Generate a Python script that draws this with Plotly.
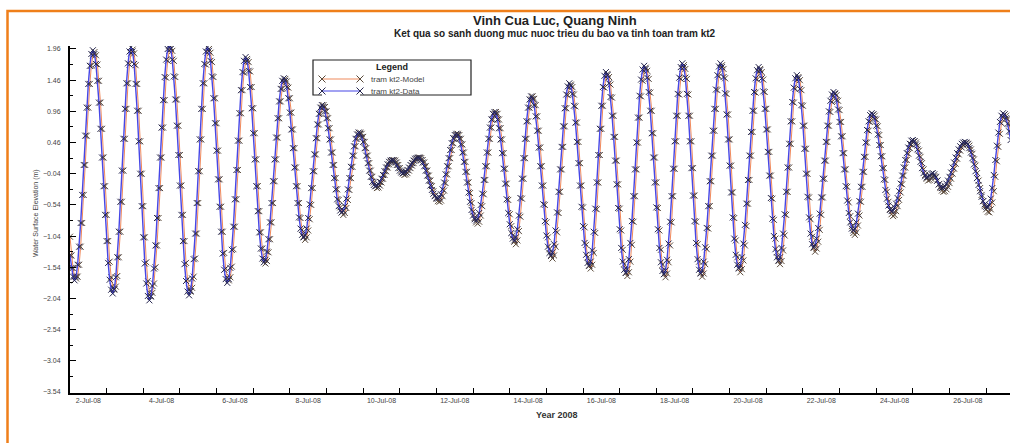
import plotly.graph_objects as go
import pandas as pd

# ---------------- data (hourly, starting 2008-07-01 12:00) ----------------
start_time = "2008-07-01 12:00"

data_elev = [
    -1.35, -1.55, -1.69, -1.75,
    -1.69, -1.50, -1.21, -0.83, -0.38, 0.10, 0.57, 1.02, 1.40, 1.69, 1.88, 1.94,
    1.88, 1.72, 1.45, 1.10, 0.68, 0.22, -0.24, -0.70, -1.12, -1.47, -1.74, -1.90, -1.96,
    -1.89, -1.70, -1.38, -0.97, -0.49, 0.01, 0.52, 1.00, 1.41, 1.73, 1.92, 1.99,
    1.92, 1.72, 1.40, 0.97, 0.48, -0.04, -0.56, -1.06, -1.48, -1.80, -2.00, -2.07,
    -2.01, -1.84, -1.56, -1.19, -0.75, -0.27, 0.22, 0.70, 1.14, 1.51, 1.79, 1.96, 2.02,
    1.96, 1.79, 1.52, 1.15, 0.73, 0.26, -0.23, -0.70, -1.12, -1.49, -1.76, -1.93, -1.99,
    -1.92, -1.72, -1.41, -1.00, -0.51, 0.00, 0.51, 1.00, 1.41, 1.72, 1.92, 1.99,
    1.93, 1.77, 1.52, 1.17, 0.77, 0.33, -0.13, -0.57, -0.97, -1.32, -1.58, -1.73, -1.79,
    -1.73, -1.55, -1.26, -0.89, -0.45, 0.02, 0.49, 0.93, 1.30, 1.59, 1.77, 1.83,
    1.77, 1.61, 1.35, 1.01, 0.61, 0.19, -0.24, -0.64, -0.98, -1.24, -1.40, -1.46,
    -1.42, -1.29, -1.09, -0.82, -0.51, -0.16, 0.19, 0.54, 0.85, 1.12, 1.32, 1.45, 1.49,
    1.45, 1.35, 1.17, 0.94, 0.67, 0.37, 0.06, -0.24, -0.51, -0.74, -0.92, -1.02, -1.06,
    -1.02, -0.92, -0.75, -0.53, -0.27, 0.00, 0.27, 0.53, 0.75, 0.92, 1.02, 1.06,
    1.03, 0.96, 0.85, 0.69, 0.51, 0.30, 0.10, -0.11, -0.29, -0.45, -0.56, -0.63, -0.66,
    -0.63, -0.56, -0.44, -0.29, -0.11, 0.07, 0.25, 0.40, 0.52, 0.59, 0.62,
    0.60, 0.55, 0.47, 0.37, 0.25, 0.13, 0.01, -0.09, -0.17, -0.22, -0.24,
    -0.23, -0.21, -0.17, -0.12, -0.06, 0.00, 0.06, 0.11, 0.15, 0.17, 0.18,
    0.17, 0.14, 0.10, 0.05, 0.01, -0.02, -0.03,
    -0.02, -0.01, 0.02, 0.06, 0.10, 0.13, 0.17, 0.20, 0.21, 0.22,
    0.21, 0.18, 0.14, 0.08, 0.01, -0.07, -0.15, -0.23, -0.30, -0.36, -0.40, -0.43, -0.44,
    -0.42, -0.37, -0.29, -0.18, -0.05, 0.08, 0.21, 0.34, 0.45, 0.53, 0.58, 0.60,
    0.58, 0.52, 0.43, 0.30, 0.15, -0.01, -0.18, -0.34, -0.49, -0.62, -0.71, -0.77, -0.79,
    -0.76, -0.67, -0.54, -0.36, -0.14, 0.08, 0.30, 0.52, 0.70, 0.83, 0.92, 0.95,
    0.92, 0.83, 0.69, 0.51, 0.29, 0.04, -0.20, -0.45, -0.67, -0.85, -0.99, -1.08, -1.11,
    -1.06, -0.93, -0.71, -0.43, -0.12, 0.21, 0.52, 0.80, 1.02, 1.15, 1.20,
    1.16, 1.06, 0.88, 0.65, 0.38, 0.08, -0.23, -0.53, -0.80, -1.03, -1.21, -1.31, -1.35,
    -1.30, -1.17, -0.95, -0.66, -0.33, 0.03, 0.39, 0.72, 1.01, 1.23, 1.36, 1.41,
    1.37, 1.24, 1.05, 0.78, 0.47, 0.13, -0.23, -0.57, -0.88, -1.15, -1.34, -1.47, -1.51,
    -1.45, -1.27, -0.97, -0.60, -0.18, 0.26, 0.68, 1.05, 1.35, 1.53, 1.59,
    1.54, 1.41, 1.19, 0.89, 0.55, 0.17, -0.21, -0.59, -0.93, -1.23, -1.45, -1.58, -1.63,
    -1.57, -1.41, -1.15, -0.80, -0.40, 0.03, 0.46, 0.86, 1.21, 1.47, 1.63, 1.69,
    1.64, 1.50, 1.27, 0.97, 0.61, 0.22, -0.18, -0.58, -0.93, -1.23, -1.46, -1.60, -1.65,
    -1.59, -1.42, -1.16, -0.81, -0.40, 0.04, 0.48, 0.89, 1.24, 1.50, 1.67, 1.73,
    1.67, 1.50, 1.24, 0.89, 0.48, 0.05, -0.39, -0.80, -1.15, -1.41, -1.58, -1.64,
    -1.59, -1.45, -1.22, -0.91, -0.56, -0.16, 0.25, 0.65, 1.00, 1.31, 1.54, 1.68, 1.73,
    1.67, 1.51, 1.25, 0.91, 0.51, 0.09, -0.34, -0.74, -1.08, -1.34, -1.50, -1.56,
    -1.51, -1.38, -1.16, -0.86, -0.52, -0.14, 0.25, 0.63, 0.97, 1.27, 1.49, 1.62, 1.67,
    1.62, 1.49, 1.28, 1.00, 0.67, 0.31, -0.07, -0.43, -0.76, -1.04, -1.25, -1.38, -1.43,
    -1.38, -1.23, -1.00, -0.69, -0.33, 0.06, 0.44, 0.80, 1.11, 1.34, 1.49, 1.54,
    1.49, 1.32, 1.06, 0.73, 0.36, -0.04, -0.41, -0.74, -1.00, -1.17, -1.22,
    -1.18, -1.08, -0.91, -0.68, -0.42, -0.12, 0.17, 0.47, 0.73, 0.96, 1.13, 1.23, 1.27,
    1.24, 1.14, 0.99, 0.79, 0.56, 0.29, 0.03, -0.24, -0.47, -0.67, -0.82, -0.92, -0.95,
    -0.92, -0.82, -0.68, -0.48, -0.25, -0.01, 0.23, 0.46, 0.66, 0.80, 0.90, 0.93,
    0.91, 0.84, 0.73, 0.59, 0.42, 0.24, 0.05, -0.13, -0.30, -0.44, -0.55, -0.62, -0.64,
    -0.63, -0.58, -0.52, -0.43, -0.32, -0.20, -0.07, 0.06, 0.18, 0.29, 0.38, 0.44, 0.49, 0.50,
    0.48, 0.43, 0.35, 0.25, 0.15, 0.05, -0.03, -0.08, -0.10,
    -0.09, -0.07, -0.04, -0.03,
    -0.05, -0.09, -0.15, -0.21, -0.25, -0.27,
    -0.26, -0.24, -0.20, -0.15, -0.09, -0.02, 0.06, 0.14, 0.22, 0.29, 0.35, 0.40, 0.44, 0.46, 0.47,
    0.46, 0.43, 0.37, 0.30, 0.21, 0.11, 0.00, -0.11, -0.22, -0.32, -0.41, -0.48, -0.53, -0.57, -0.58,
    -0.54, -0.44, -0.27, -0.06, 0.18, 0.41, 0.62, 0.79, 0.89, 0.93,
    0.91, 0.85, 0.76, 0.64, 0.50,
]

model_elev = [
    -1.05,
    -1.35, -1.55, -1.69, -1.72,
    -1.69, -1.50, -1.21, -0.83, -0.38, 0.10, 0.57, 1.02, 1.40, 1.69, 1.86, 1.91,
    1.86, 1.71, 1.45, 1.10, 0.68, 0.22, -0.24, -0.70, -1.12, -1.45, -1.70, -1.85, -1.90,
    -1.85, -1.68, -1.38, -0.97, -0.49, 0.01, 0.52, 1.00, 1.41, 1.71, 1.89, 1.95,
    1.89, 1.70, 1.40, 0.97, 0.48, -0.04, -0.56, -1.06, -1.46, -1.76, -1.94, -2.00,
    -1.95, -1.80, -1.54, -1.19, -0.75, -0.27, 0.22, 0.70, 1.14, 1.50, 1.77, 1.93, 1.98,
    1.93, 1.77, 1.51, 1.15, 0.73, 0.26, -0.23, -0.70, -1.12, -1.47, -1.73, -1.88, -1.93,
    -1.87, -1.69, -1.40, -1.00, -0.51, 0.00, 0.51, 1.00, 1.41, 1.71, 1.90, 1.96,
    1.90, 1.75, 1.51, 1.17, 0.77, 0.33, -0.13, -0.57, -0.97, -1.31, -1.56, -1.70, -1.75,
    -1.70, -1.53, -1.25, -0.89, -0.45, 0.02, 0.49, 0.93, 1.30, 1.58, 1.75, 1.80,
    1.75, 1.60, 1.35, 1.01, 0.61, 0.19, -0.24, -0.64, -0.98, -1.24, -1.41, -1.48,
    -1.44, -1.30, -1.09, -0.82, -0.51, -0.16, 0.19, 0.54, 0.85, 1.12, 1.32, 1.44, 1.48,
    1.44, 1.34, 1.17, 0.94, 0.67, 0.37, 0.06, -0.24, -0.51, -0.75, -0.94, -1.05, -1.10,
    -1.06, -0.95, -0.77, -0.54, -0.27, 0.00, 0.27, 0.53, 0.75, 0.92, 1.02, 1.06,
    1.03, 0.96, 0.85, 0.69, 0.51, 0.30, 0.10, -0.11, -0.29, -0.46, -0.58, -0.66, -0.70,
    -0.67, -0.59, -0.46, -0.30, -0.11, 0.07, 0.25, 0.40, 0.52, 0.59, 0.62,
    0.60, 0.55, 0.47, 0.37, 0.25, 0.13, 0.01, -0.09, -0.18, -0.24, -0.27,
    -0.26, -0.23, -0.18, -0.12, -0.06, 0.00, 0.06, 0.11, 0.15, 0.17, 0.18,
    0.17, 0.14, 0.10, 0.05, 0.00, -0.04, -0.06,
    -0.05, -0.03, 0.01, 0.05, 0.09, 0.13, 0.17, 0.20, 0.21, 0.22,
    0.21, 0.18, 0.14, 0.08, 0.01, -0.07, -0.15, -0.24, -0.32, -0.39, -0.44, -0.48, -0.49,
    -0.47, -0.40, -0.31, -0.19, -0.05, 0.08, 0.21, 0.34, 0.45, 0.53, 0.58, 0.60,
    0.58, 0.52, 0.43, 0.30, 0.15, -0.01, -0.18, -0.35, -0.51, -0.65, -0.75, -0.82, -0.84,
    -0.81, -0.71, -0.56, -0.37, -0.14, 0.08, 0.30, 0.52, 0.70, 0.83, 0.92, 0.95,
    0.92, 0.83, 0.69, 0.51, 0.29, 0.04, -0.20, -0.46, -0.69, -0.88, -1.03, -1.13, -1.17,
    -1.11, -0.96, -0.73, -0.44, -0.12, 0.21, 0.52, 0.80, 1.02, 1.15, 1.20,
    1.16, 1.06, 0.88, 0.65, 0.38, 0.08, -0.23, -0.54, -0.82, -1.06, -1.25, -1.36, -1.40,
    -1.35, -1.21, -0.98, -0.67, -0.33, 0.03, 0.39, 0.72, 1.01, 1.22, 1.34, 1.39,
    1.35, 1.23, 1.04, 0.78, 0.47, 0.13, -0.23, -0.58, -0.90, -1.18, -1.38, -1.52, -1.56,
    -1.50, -1.31, -0.99, -0.61, -0.18, 0.26, 0.68, 1.05, 1.34, 1.51, 1.56,
    1.51, 1.39, 1.18, 0.89, 0.55, 0.17, -0.21, -0.60, -0.95, -1.26, -1.49, -1.63, -1.68,
    -1.62, -1.45, -1.18, -0.81, -0.40, 0.03, 0.46, 0.86, 1.20, 1.45, 1.60, 1.66,
    1.61, 1.48, 1.26, 0.97, 0.61, 0.22, -0.18, -0.59, -0.95, -1.26, -1.50, -1.65, -1.70,
    -1.64, -1.46, -1.19, -0.82, -0.40, 0.04, 0.48, 0.89, 1.23, 1.48, 1.64, 1.70,
    1.64, 1.48, 1.23, 0.89, 0.48, 0.05, -0.39, -0.81, -1.17, -1.45, -1.63, -1.69,
    -1.64, -1.49, -1.25, -0.92, -0.56, -0.16, 0.25, 0.65, 1.00, 1.30, 1.52, 1.65, 1.70,
    1.64, 1.49, 1.24, 0.91, 0.51, 0.09, -0.34, -0.75, -1.11, -1.38, -1.55, -1.62,
    -1.57, -1.43, -1.19, -0.88, -0.52, -0.14, 0.25, 0.63, 0.97, 1.26, 1.47, 1.59, 1.64,
    1.59, 1.47, 1.27, 1.00, 0.67, 0.31, -0.07, -0.44, -0.78, -1.08, -1.30, -1.44, -1.49,
    -1.44, -1.27, -1.03, -0.70, -0.33, 0.06, 0.44, 0.80, 1.10, 1.32, 1.46, 1.51,
    1.46, 1.30, 1.05, 0.73, 0.36, -0.04, -0.42, -0.77, -1.05, -1.23, -1.29,
    -1.24, -1.13, -0.94, -0.70, -0.42, -0.12, 0.17, 0.47, 0.73, 0.95, 1.11, 1.21, 1.25,
    1.22, 1.13, 0.98, 0.79, 0.56, 0.29, 0.03, -0.25, -0.50, -0.72, -0.88, -0.99, -1.02,
    -0.98, -0.87, -0.71, -0.49, -0.25, -0.01, 0.23, 0.46, 0.65, 0.79, 0.88, 0.91,
    0.89, 0.83, 0.72, 0.58, 0.42, 0.24, 0.05, -0.14, -0.33, -0.49, -0.61, -0.69, -0.72,
    -0.70, -0.64, -0.56, -0.46, -0.34, -0.21, -0.07, 0.06, 0.18, 0.28, 0.37, 0.43, 0.47, 0.48,
    0.46, 0.41, 0.33, 0.23, 0.13, 0.03, -0.06, -0.12, -0.15,
    -0.14, -0.12, -0.09, -0.08,
    -0.10, -0.15, -0.21, -0.27, -0.31, -0.33,
    -0.32, -0.29, -0.25, -0.19, -0.12, -0.04, 0.04, 0.12, 0.20, 0.27, 0.33, 0.38, 0.42, 0.44, 0.45,
    0.44, 0.41, 0.35, 0.28, 0.19, 0.09, -0.03, -0.15, -0.27, -0.38, -0.48, -0.56, -0.61, -0.65, -0.66,
    -0.61, -0.50, -0.32, -0.09, 0.16, 0.39, 0.60, 0.77, 0.87, 0.91,
    0.89, 0.84, 0.75, 0.63,
]

series_names = ["tram kt2-Model", "tram kt2-Data"]
x_label_dates = ["2008-07-%02d" % d for d in range(2, 27, 2)]
y_tick_values = [-3.54, -3.04, -2.54, -2.04, -1.54, -1.04, -0.54, -0.04, 0.46, 0.96, 1.46, 1.96]

title_text = "Vinh Cua Luc, Quang Ninh"
subtitle_text = "Ket qua so sanh duong muc nuoc trieu du bao va tinh toan tram kt2"
x_title = "Year 2008"
y_title = "Water Surface Elevation (m)"

# ---------------- styles ----------------
MODEL_LINE = "#f08a5d"
MODEL_MARK = "#5a4a3a"
DATA_LINE = "#4646e6"
DATA_MARK = "#26264e"
FONT = "Liberation Sans, Arial, sans-serif"

t_model = pd.date_range(start_time, periods=len(model_elev), freq="h")
t_data = pd.date_range(start_time, periods=len(data_elev), freq="h")

fig = go.Figure()
fig.add_trace(go.Scatter(
    x=t_model, y=model_elev, mode="lines+markers", name=series_names[0],
    line=dict(color=MODEL_LINE, width=1.0),
    marker=dict(symbol="x-thin", size=6, color=MODEL_MARK, line=dict(width=1, color=MODEL_MARK)),
    showlegend=False,
))
fig.add_trace(go.Scatter(
    x=t_data, y=data_elev, mode="lines+markers", name=series_names[1],
    line=dict(color=DATA_LINE, width=1.4),
    marker=dict(symbol="x-thin", size=6, color=DATA_MARK, line=dict(width=1, color=DATA_MARK)),
    showlegend=False,
))

# legend samples drawn on a small overlay axis
fig.add_trace(go.Scatter(
    x=[0, 1], y=[0.75, 0.75], mode="lines+markers", xaxis="x2", yaxis="y2",
    line=dict(color=MODEL_LINE, width=1.2), cliponaxis=False,
    marker=dict(symbol="x-thin", size=7, color=MODEL_MARK, line=dict(width=1, color=MODEL_MARK)),
    showlegend=False, hoverinfo="skip",
))
fig.add_trace(go.Scatter(
    x=[0, 1], y=[0.25, 0.25], mode="lines+markers", xaxis="x2", yaxis="y2",
    line=dict(color=DATA_LINE, width=1.2), cliponaxis=False,
    marker=dict(symbol="x-thin", size=7, color=DATA_MARK, line=dict(width=1, color=DATA_MARK)),
    showlegend=False, hoverinfo="skip",
))

W, H = 1010, 443
L, R, T, B = 70, 0, 46, 50
PW, PH = W - L - R, H - T - B


def px(x):
    return (x - L) / PW


def py(y):
    return (H - B - y) / PH


fig.update_layout(
    width=W, height=H, autosize=False,
    margin=dict(l=L, r=R, t=T, b=B, pad=0),
    paper_bgcolor="white", plot_bgcolor="white",
    font=dict(family=FONT, size=7, color="#444"),
    xaxis=dict(
        type="date",
        range=["2008-07-01 12:01", "2008-07-27 03:36"],
        tickvals=x_label_dates, tickformat="%-d-%b-%y",
        ticks="", showgrid=False, zeroline=False,
        showline=True, linecolor="black", linewidth=2,
        tickfont=dict(family=FONT, size=7, color="#444"),
        minor=dict(ticks="inside", ticklen=5, tickwidth=1, tickcolor="black",
                   tick0="2008-07-01 12:00", dtick=86400000, showgrid=False),
    ),
    yaxis=dict(
        range=[-3.556, 2.008],
        tickvals=y_tick_values, tickformat=".2f",
        ticks="inside", ticklen=6, tickwidth=1, tickcolor="black",
        showgrid=False, zeroline=False,
        showline=True, linecolor="black", linewidth=2,
        tickfont=dict(family=FONT, size=7, color="#444"),
        ticklabelstandoff=6,
        minor=dict(ticks="inside", ticklen=3, tickwidth=1, tickcolor="black",
                   tick0=-3.54, dtick=0.25, showgrid=False),
    ),
    xaxis2=dict(domain=[px(322), px(360)], range=[0, 1], anchor="y2",
                visible=False, fixedrange=True),
    yaxis2=dict(domain=[py(97), py(73)], range=[0, 1], anchor="x2",
                visible=False, fixedrange=True),
    showlegend=False,
)

# legend box + texts
fig.add_shape(type="rect", xref="paper", yref="paper",
              x0=px(313), x1=px(471), y0=py(95), y1=py(60),
              line=dict(color="#222", width=1.2), fillcolor="white", layer="below")
fig.add_annotation(text="<b>Legend</b>", xref="paper", yref="paper", x=px(392), y=py(67),
                   showarrow=False, font=dict(family=FONT, size=9, color="#222"),
                   xanchor="center", yanchor="middle")
fig.add_annotation(text=series_names[0], xref="paper", yref="paper", x=px(369), y=py(79),
                   showarrow=False, font=dict(family=FONT, size=8, color="#444"),
                   xanchor="left", yanchor="middle")
fig.add_annotation(text=series_names[1], xref="paper", yref="paper", x=px(369), y=py(91),
                   showarrow=False, font=dict(family=FONT, size=8, color="#444"),
                   xanchor="left", yanchor="middle")

# titles
fig.add_annotation(text="<b>%s</b>" % title_text, xref="paper", yref="paper",
                   x=px(555), y=py(20), showarrow=False,
                   font=dict(family=FONT, size=13, color="#222"),
                   xanchor="center", yanchor="middle")
fig.add_annotation(text="<b>%s</b>" % subtitle_text, xref="paper", yref="paper",
                   x=px(555), y=py(33), showarrow=False,
                   font=dict(family=FONT, size=10, color="#222"),
                   xanchor="center", yanchor="middle")
fig.add_annotation(text="<b>%s</b>" % x_title, xref="paper", yref="paper",
                   x=px(557), y=py(415), showarrow=False,
                   font=dict(family=FONT, size=9, color="#333"),
                   xanchor="center", yanchor="middle")
fig.add_annotation(text=y_title, xref="paper", yref="paper",
                   x=px(36), y=py(213), showarrow=False, textangle=-90,
                   font=dict(family=FONT, size=7, color="#444"),
                   xanchor="center", yanchor="middle")

# orange outer frame
fig.add_shape(type="rect", xref="paper", yref="paper",
              x0=px(7.5), x1=px(1020), y0=py(460), y1=py(11),
              line=dict(color="#ef7f1a", width=2.5), fillcolor="rgba(0,0,0,0)", layer="above")

fig.write_html("out.html")
